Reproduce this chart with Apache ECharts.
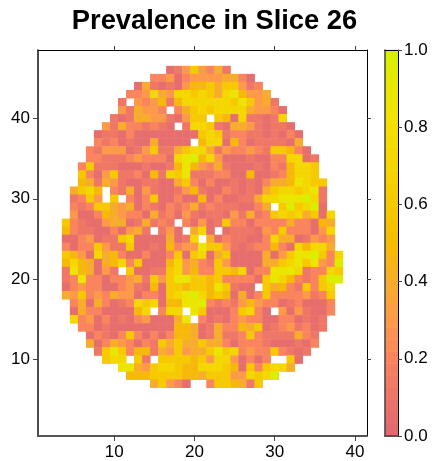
<!DOCTYPE html>
<html>
<head>
<meta charset="utf-8">
<style>html,body{margin:0;padding:0;background:#fff}#c{width:433px;height:461px}</style>
<script src="https://cdn.jsdelivr.net/npm/echarts@6/dist/echarts.min.js"></script>
</head>
<body>
<div id="c"></div>
<script>
const chartTitle = 'Prevalence in Slice 26';
const xColumns = Array.from({length: 41}, (_, i) => String(i + 1));
const yRows = Array.from({length: 48}, (_, i) => String(i + 1));
const xTickLabels = ['10', '20', '30', '40'];
const yTickLabels = ['10', '20', '30', '40'];
const colorStops = ['#E0676F','#EC7468','#F9845E','#FC9A4A','#F7AC2C','#F6BC00','#F6C900','#F5D500','#F4DF00','#E9E800','#D6F000'];

// row number in the volume (y), first column number (x), then prevalence by column
const sliceRows = [
[46,17,[.05,.12,.3,.6,.3,.2,.4,.12]],
[45,15,[.2,.2,.3,.05,.2,.3,.3,.3,.3,.4,.4,.2,.05]],
[44,13,[.05,.4,.12,.05,.12,.05,.3,.48,.48,.6,.4,.6,.6,.3,.12,.2]],
[43,12,[.2,.2,.3,.72,.4,.3,.72,.72,.6,.72,.6,.4,.72,.87,.48,.3,.3,.4]],
[42,11,[.12,null,.3,.2,.3,.48,.12,.48,.72,.72,.72,.72,.72,.72,.6,.87,.6,.3,.4,.12]],
[41,11,[.3,.12,.4,.3,.3,.2,null,.2,.4,.6,.72,.6,.72,.72,.72,.72,.4,.3,.3,.2,.05]],
[40,10,[.12,.05,.12,.4,.4,.3,.3,.12,.05,.3,.6,.6,null,.6,.48,.05,.72,.12,.12,.05,.12,.72]],
[39,9,[.3,.12,.4,.2,.2,.12,.2,.12,.05,null,.12,.72,.72,.6,.12,.05,.4,.4,.3,.12,.05,.12,.12,.05]],
[38,8,[.05,.12,.12,.05,.2,.05,.05,.05,.05,.05,.05,.05,.05,.6,.72,.6,.12,.2,.2,.12,.12,.05,.12,.05,.2,.05]],
[37,8,[.2,.12,.2,.05,.12,.05,.05,.4,.05,.05,.05,.05,null,.48,.72,.72,.05,.48,.2,.05,.12,.12,.12,.12,.05,.4]],
[36,7,[.2,.12,.3,.3,.3,.05,.12,.3,.6,.12,.12,.4,.6,.72,.72,.4,.12,.3,.2,.2,.3,.2,.12,.6,.6,.48,.2,.05]],
[35,7,[.2,.2,.12,.12,.12,.2,.3,.2,.2,.2,.05,.72,.87,.97,.48,.72,.3,.05,.05,.05,.12,.05,.05,.2,.2,.72,.72,.05,.12]],
[34,6,[.2,.6,.12,.12,.12,.05,.05,.05,.12,.05,.05,.12,.48,.87,.48,.3,.2,.4,.12,.05,.05,.05,.12,.05,.2,.12,.48,.72,.72,.6]],
[33,6,[.6,.2,.05,.3,.6,.12,.12,.2,.05,.48,.12,.72,.6,.87,.12,.12,.12,.2,.2,.05,.05,.48,.05,.05,.12,.2,.48,.72,.72,.6]],
[32,6,[.48,.4,.12,.4,.3,.12,.05,.05,.12,.12,.05,.05,.4,.6,.2,.05,.2,.05,.05,.12,.05,.12,.05,.2,.4,.4,.48,.87,.72,.6,.6]],
[31,5,[.4,.6,.72,.48,null,.2,.12,.4,.05,.3,.12,.05,.05,.12,.3,.48,.12,.05,.05,.2,.12,.05,.12,.05,.4,.6,.72,.72,.6,.72,.87,.12]],
[30,5,[.12,.2,.6,.3,null,.6,null,.2,.05,.2,.6,.05,.05,.2,.05,.05,.48,.05,.2,.05,.05,.12,.12,.4,.72,.72,.87,.87,.87,.97,.72,.12]],
[29,5,[.2,.12,.2,.6,.6,.4,.3,.4,.05,.2,.12,.05,.2,.12,.2,.4,.12,.2,.12,.12,.12,.05,.05,.2,.4,null,.6,.97,.6,.72,.97,.05]],
[28,5,[.3,.05,.05,.2,.48,.4,.3,.2,.2,.05,.4,.12,.2,.05,.3,.12,.05,.12,.12,.05,.3,.12,.4,.12,.2,.6,.72,.6,.72,.4,.6,.05,.72]],
[27,4,[.6,.2,.12,.05,.05,.3,.4,.4,.05,.12,.4,.12,.2,.12,null,.2,.05,.3,.05,.12,.6,.2,.2,.05,.2,.2,.2,.2,.4,.2,.2,.05,.48,.4]],
[26,4,[.48,.2,.12,.12,.05,.05,.2,.05,.3,.4,.12,null,.12,.3,.05,null,.4,.72,.05,null,.05,.12,.12,.12,.05,.3,.2,.6,.2,.2,.2,.05,.3,.72]],
[25,4,[.05,.05,.2,.3,.05,.12,.12,.6,.72,.05,.05,.05,.05,.4,.05,.12,.72,null,.4,.05,.2,.12,.12,.05,.05,.2,.72,.4,.4,.05,.12,.3,.2,.3]],
[24,4,[.2,.05,.2,.2,.6,.3,.12,.12,.6,.05,.05,.12,.05,.48,.2,.3,.3,.87,.6,.6,.3,.12,.05,.12,.2,.2,.48,.2,.05,.72,.48,.72,.72,.4]],
[23,4,[.6,.48,.3,.05,.72,.4,.48,.2,.05,.05,.2,.05,.05,.2,.6,.05,.6,.72,.05,.4,.6,.05,.05,.05,.05,.4,.05,.3,.6,.87,.87,.97,.6,.2,.72]],
[22,4,[.48,.72,.48,.4,.05,.4,.48,.72,.2,.6,.05,.05,.05,.48,.72,.3,.4,.2,.12,.6,.3,.05,.05,.05,.05,.4,.4,.6,.72,.87,.6,.87,.3,.2,.97]],
[21,4,[.12,.87,.48,.4,.05,.3,.12,null,.6,.05,.05,.12,.12,.6,.72,.3,.48,.2,.2,.6,.6,.48,.72,.05,.2,.2,.87,.87,.87,.72,.12,.2,.2,.72,.6]],
[20,4,[.12,.2,.87,.2,.2,.05,.2,.2,.3,.4,.12,.6,.3,.6,.87,.87,.6,.6,.48,.6,.2,.2,.2,.2,.05,.6,.87,.72,.48,.2,.12,.2,.6,.97,.97]],
[19,4,[.05,.2,.3,.2,.2,.05,.05,.2,.3,.12,.05,.48,.05,.6,.6,.48,.6,.6,.48,.87,.6,.12,.05,.05,null,.6,.4,.48,.2,.12,.6,.2,.6,.72]],
[18,4,[.4,.3,.6,.2,.3,.2,.4,.3,.3,.05,.2,.2,.05,.6,.72,.87,.97,.72,.48,.6,.48,.05,.4,.05,.2,.6,.2,.2,.2,.2,.3,.12,.2,.6]],
[17,5,[.2,.4,.05,.4,.2,.05,.12,.2,.72,.6,.72,.05,.48,.48,.87,.87,.97,.2,.12,.2,.12,.3,.48,.3,.2,.2,.05,.12,.2,.05,.05,.05,.2]],
[16,5,[.05,.4,.2,.2,.05,.05,.05,.05,.48,.72,null,.2,.72,.72,null,.87,.6,.05,.05,.05,.2,.6,.72,.2,.05,null,.3,.05,.3,.12,.05,.05,.2]],
[15,5,[.72,.2,.3,.05,.2,.05,.12,.05,.2,.3,.05,.05,.05,.4,.87,null,.2,.05,.12,.05,.2,.3,.2,.2,.05,.05,.2,.2,.05,.12,.05,.12]],
[14,6,[.2,.2,.05,.12,.05,.05,.05,.05,.05,.05,.05,.05,.48,.48,.4,.05,.12,.4,.2,.2,.48,.4,.6,.05,.12,.2,.3,.12,.2,.05,.12]],
[13,7,[.05,.2,.12,.05,.2,.6,.2,.05,.2,.05,.2,.48,.48,.4,.05,.12,.4,.12,.12,.2,.6,.2,.12,.12,.12,.12,.4,.2,.12]],
[12,7,[.4,.05,.2,.4,.3,.2,.05,.2,.12,.6,.4,.6,.4,.4,.6,.4,.4,.2,.05,.2,.2,.2,.12,.05,.05,.05,.12,.05,.2]],
[11,8,[.12,.6,.87,.6,.2,.48,.48,.12,.4,.3,.6,.3,.4,.4,.6,.87,.6,.72,.2,.3,.2,.2,.6,.2,.12,.05,.12]],
[10,9,[.6,.72,.72,null,.6,.12,null,.6,.6,.6,.6,.48,.6,.3,.72,.72,.3,.05,.2,.05,.2,null,null,.6,.05]],
[9,11,[.87,.87,.4,.3,.6,.72,.72,.6,.48,.48,.72,.72,.72,.6,.48,.05,.6,.2,.6,.72,.72,.4]],
[8,12,[.48,.48,.48,.6,.6,.6,.6,.48,.48,.4,.6,.6,.6,.3,.3,.72,.6,.72,.97]],
[7,15,[.4,.6,.3,.2,.05,null,null,.2,.6,.6,.48,.4,.12,.6]]
];

const cells = [];
sliceRows.forEach(([row, first, values]) => {
  values.forEach((v, i) => {
    if (v !== null) cells.push([String(first + i), String(row), v]);
  });
});

const colorbarLevels = Array.from({length: 32}, (_, i) => (i + 0.5) / 32);
const colorbarCells = colorbarLevels.map((v, i) => [0, i, v]);

const font = '"Liberation Sans", Arial, sans-serif';
const showOn = labels => (i, value) => labels.includes(String(value));
const line = {show: true, lineStyle: {color: '#000', width: 1}};
const heavyLine = {show: true, lineStyle: {color: '#555', width: 2}};
const tickStyle = {color: '#444', width: 1};

const chart = echarts.init(document.getElementById('c'), null, {renderer: 'canvas'});
chart.setOption({
  animation: false,
  backgroundColor: '#fff',
  title: {
    text: chartTitle, left: 209.5, top: 3, textAlign: 'center',
    textStyle: {fontFamily: font, fontSize: 27.3, fontWeight: 'bold', color: '#000'}
  },
  visualMap: {
    show: false, type: 'continuous', min: 0, max: 1, dimension: 2,
    seriesIndex: [0, 1], inRange: {color: colorStops}
  },
  grid: [
    {left: 38, top: 50, width: 329, height: 386},
    {left: 385, top: 50, width: 13, height: 386}
  ],
  xAxis: [
    {type: 'category', gridIndex: 0, data: xColumns, position: 'bottom', z: 5, axisLine: heavyLine,
     axisTick: {show: true, alignWithLabel: true, length: 5, interval: showOn(xTickLabels), lineStyle: tickStyle},
     axisLabel: {interval: showOn(xTickLabels), fontFamily: font, fontSize: 17, color: '#000', margin: 8}, splitLine: {show: false}},
    {type: 'category', gridIndex: 0, data: xColumns, position: 'top', z: 5, axisLine: line,
     axisTick: {show: true, alignWithLabel: true, length: 4, interval: showOn(xTickLabels), lineStyle: tickStyle},
     axisLabel: {show: false}, splitLine: {show: false}},
    {type: 'category', gridIndex: 1, data: ['bar'], position: 'bottom', z: 5, axisLine: heavyLine,
     axisTick: {show: false}, axisLabel: {show: false}, splitLine: {show: false}},
    {type: 'category', gridIndex: 1, data: ['bar'], position: 'top', z: 5, axisLine: line,
     axisTick: {show: false}, axisLabel: {show: false}, splitLine: {show: false}}
  ],
  yAxis: [
    {type: 'category', gridIndex: 0, data: yRows, position: 'left', z: 5, axisLine: {show: true, lineStyle: {color: '#111', width: 1.5}},
     axisTick: {show: true, alignWithLabel: true, length: 5, interval: showOn(yTickLabels), lineStyle: tickStyle},
     axisLabel: {interval: showOn(yTickLabels), fontFamily: font, fontSize: 17, color: '#000', margin: 8, verticalAlign: 'middle', padding: [2, 0, 0, 0]}, splitLine: {show: false}},
    {type: 'category', gridIndex: 0, data: yRows, position: 'right', z: 5, axisLine: line,
     axisTick: {show: true, alignWithLabel: true, length: 4, interval: showOn(yTickLabels), lineStyle: tickStyle},
     axisLabel: {show: false}, splitLine: {show: false}},
    {type: 'category', gridIndex: 1, data: colorbarLevels.map(String), position: 'left', z: 5, axisLine: {show: true, lineStyle: {color: '#444', width: 1.5}},
     axisTick: {show: false}, axisLabel: {show: false}, splitLine: {show: false}},
    {type: 'value', gridIndex: 1, min: 0, max: 1, interval: 0.2, position: 'right', z: 5, axisLine: line,
     axisTick: {show: true, length: 4, lineStyle: tickStyle},
     axisLabel: {formatter: v => v.toFixed(1), fontFamily: font, fontSize: 17, color: '#000', margin: 6, verticalAlign: 'middle', padding: [10, 0, 0, 0]},
     splitLine: {show: false}}
  ],
  series: [
    {type: 'heatmap', xAxisIndex: 0, yAxisIndex: 0, data: cells, progressive: 0, itemStyle: {borderWidth: 0}},
    {type: 'heatmap', xAxisIndex: 2, yAxisIndex: 2, data: colorbarCells, progressive: 0, itemStyle: {borderWidth: 0}}
  ]
});
</script>
</body>
</html>
